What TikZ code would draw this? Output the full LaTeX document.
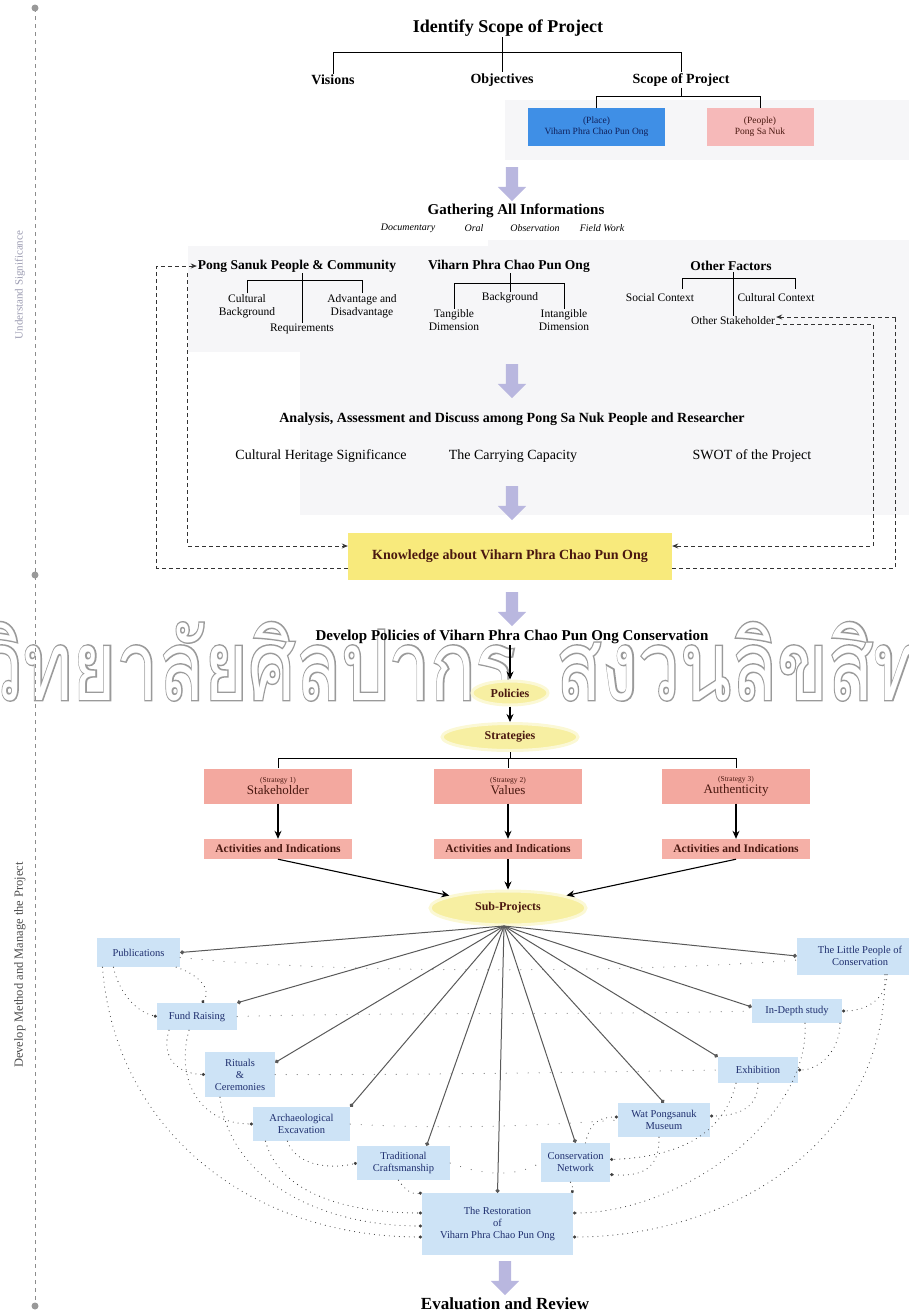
\documentclass[tikz,border=0pt]{standalone}
\usepackage{fontspec}
\setmainfont{Liberation Serif}
\newfontfamily\thaiwm[Script=Thai]{Loma}
\newfontfamily\thaiwmbold[Script=Thai, FakeBold=3]{Loma}
\usepackage{graphicx}
\usetikzlibrary{arrows.meta,shapes.geometric,shapes.arrows}
\definecolor{lav}{HTML}{B9B7DF}
\definecolor{placeblue}{HTML}{3F8FE6}
\definecolor{peoplepink}{HTML}{F6B9B9}
\definecolor{strpink}{HTML}{F3A89F}
\definecolor{actpink}{HTML}{F5B0A7}
\definecolor{knowy}{HTML}{F8EA7C}
\definecolor{elly}{HTML}{F7EFA2}
\definecolor{subblue}{HTML}{CDE3F6}
\definecolor{subtext}{HTML}{1E2E6E}
\definecolor{panel}{HTML}{F6F6F8}
\definecolor{wmgray}{HTML}{9A9A9A}
\definecolor{darkred}{HTML}{4A1810}
\definecolor{navy}{HTML}{10205A}
\definecolor{sidegray}{HTML}{9A9AB0}
\tikzset{
  ttl/.style={font=\bfseries\fontsize{18}{20}\selectfont, inner sep=1pt},
  hd/.style={font=\bfseries\fontsize{15}{17}\selectfont, inner sep=1pt},
  hdb/.style={font=\bfseries\fontsize{14}{16}\selectfont, inner sep=1pt},
  hdm/.style={font=\bfseries\fontsize{13.5}{15}\selectfont, inner sep=1pt},
  lbl/.style={font=\fontsize{11.5}{12.5}\selectfont, align=center, inner sep=1pt},
  itl/.style={font=\itshape\fontsize{10}{12}\selectfont, inner sep=1pt},
  rowt/.style={font=\fontsize{14}{16}\selectfont, inner sep=1pt},
  tree/.style={draw=black, line width=1pt},
  bigarr/.style={single arrow, fill=lav, draw=none, shape border rotate=270,
    minimum height=34pt, minimum width=28pt, inner sep=6pt, single arrow head extend=8pt},
  blk/.style={draw=black, line width=1.1pt, -{Stealth[length=8pt,width=7pt]}},
  dashl/.style={draw=black!80, line width=0.8pt, dash pattern=on 4pt off 3pt},
  placebox/.style={fill=placeblue, minimum width=137pt, minimum height=38pt, align=center,
    font=\fontsize{9.5}{11}\selectfont, text=navy, inner sep=1pt},
  pplbox/.style={fill=peoplepink, minimum width=107pt, minimum height=38pt, align=center,
    font=\fontsize{9.5}{11}\selectfont, text=darkred, inner sep=1pt},
  knowbox/.style={fill=knowy, minimum width=324pt, minimum height=47pt,
    font=\bfseries\fontsize{14}{16}\selectfont, text=darkred},
  ell/.style={ellipse, fill=elly, draw=elly!45, line width=3pt, text=darkred,
    font=\bfseries\fontsize{12}{14}\selectfont, inner sep=0pt},
  stbox/.style={fill=strpink, minimum width=148pt, minimum height=35pt, align=center,
    text=darkred, inner sep=1pt},
  actbox/.style={fill=actpink, minimum width=148pt, minimum height=20pt,
    font=\bfseries\fontsize{11.5}{13}\selectfont, text=darkred, inner sep=1pt},
  sp/.style={fill=subblue, align=center, text=subtext, font=\fontsize{10.5}{12}\selectfont, inner sep=1pt},
  hubl/.style={draw=black!65, line width=1pt, -{Circle[length=4pt]}},
  dotc/.style={draw=black!75, line width=1.1pt, line cap=round, dash pattern=on 0pt off 5pt, -{Circle[length=3pt]}},
  sparse/.style={draw=black!60, line width=1.1pt, line cap=round, dash pattern=on 0pt off 11pt},
  wmark/.style={inner sep=0pt},
}
\newcommand{\wmtext}[1]{\scalebox{0.77}[1]{\fontsize{97}{97}\selectfont\rlap{\textcolor{wmgray}{\thaiwmbold #1}}\textcolor{white}{\thaiwm #1}}}
\begin{document}
\begin{tikzpicture}[x=1pt,y=-1pt]
\useasboundingbox (0,0) rectangle (909,1315);
% faint background panels
\fill[panel] (505,100) rectangle (909,160);
\fill[panel] (188,246) rectangle (488,352);
\fill[panel] (488,240) rectangle (909,515);
\fill[panel] (300,352) rectangle (488,515);

% watermark
\node[wmark, anchor=base east] (wm1) at (516,700) {\wmtext{มหาวิทยาลัยศิลปากร}};
\node[wmark, anchor=base west] (wm2) at (556,700) {\wmtext{สงวนลิขสิทธิ์}};

% side bar
\coordinate (barT) at (35,8);
\coordinate (barM) at (35,575);
\coordinate (barB) at (35,1306);
\draw[draw=black!45, line width=0.8pt, dash pattern=on 4pt off 4pt] (barT) -- (barB);
\fill[black!40] (barT) circle (3.5pt);
\fill[black!40] (barM) circle (3.5pt);
\fill[black!40] (barB) circle (3.5pt);
\node[rotate=90, font=\fontsize{11}{12}\selectfont, text=sidegray] (us) at (20,285) {Understand Significance};
\node[rotate=90, font=\fontsize{12.5}{14}\selectfont, text=black!70] (dm) at (20,965) {Develop Method and Manage the Project};

% top
\node[ttl] (top) at (508,28) {Identify Scope of Project};
\node[hdb] (vis) at (333,80) {Visions};
\node[hdb] (obj) at (502,80) {Objectives};
\node[hdb] (scope) at (681,80) {Scope of Project};
\coordinate (b1) at (0,52);
\draw[tree] (top.south -| obj) -- (obj.north);
\draw[tree] (vis.north) -- (vis.north |- b1) -- (scope.north |- b1) -- (scope.north);
\node[placebox] (place) at (596.5,127) {(Place)\\Viharn Phra Chao Pun Ong};
\node[pplbox] (ppl) at (760,127) {(People)\\Pong Sa Nuk};
\coordinate (b2) at (0,96);
\draw[tree] (scope.south) -- (scope.south |- b2);
\draw[tree] (place.north) -- (place.north |- b2) -- (ppl.north |- b2) -- (ppl.north);

\node[bigarr] (ar1) at (512,181) {};
\node[hd] (gath) at (516,211) {Gathering All Informations};
\node[itl] (doc) at (408,228) {Documentary};
\node[itl] (oral) at (474,228) {Oral};
\node[itl] (obs) at (535,228) {Observation};
\node[itl] (fw) at (602,228) {Field Work};

% groups
\node[hdm] (pong) at (297,266) {Pong Sanuk People \& Community};
\node[hdm] (vih) at (509,266) {Viharn Phra Chao Pun Ong};
\node[hdm] (oth) at (731,266) {Other Factors};

\node[lbl] (cb) at (247,306) {Cultural\\Background};
\node[lbl] (adv) at (362,306) {Advantage and\\Disadvantage};
\node[lbl] (req) at (302,329) {Requirements};
\coordinate (b3) at (0,280);
\draw[tree] (req.north |- pong.south) -- (req.north);
\draw[tree] (cb.north) -- (cb.north |- b3) -- (adv.north |- b3) -- (adv.north);

\node[lbl] (bg) at (510,298) {Background};
\node[lbl] (tan) at (454,320) {Tangible\\Dimension};
\node[lbl] (intan) at (564,320) {Intangible\\Dimension};
\coordinate (b5) at (0,283);
\draw[tree] (bg.north |- vih.south) -- (bg.north);
\draw[tree] (tan.north) -- (tan.north |- b5) -- (intan.north |- b5) -- (intan.north);

\node[lbl] (soc) at (660,298) {Social Context};
\node[lbl] (cul) at (776,298) {Cultural Context};
\node[lbl] (ost) at (733,321) {Other Stakeholder};
\coordinate (rdl) at (682,289);
\coordinate (rdr) at (795,289);
\coordinate (b4) at (0,278);
\draw[tree] (ost.north |- oth.south) -- (ost.north);
\draw[tree] (rdl) -- (rdl |- b4) -- (rdr |- b4) -- (rdr);

\node[bigarr] (ar2) at (512,378) {};
\node[hdb] (anal) at (512,419) {Analysis, Assessment and Discuss among Pong Sa Nuk People and Researcher};
\node[rowt] (chs) at (321,456) {Cultural Heritage Significance};
\node[rowt] (cc) at (513,456) {The Carrying Capacity};
\node[rowt] (swot) at (752,456) {SWOT of the Project};
\node[bigarr] (ar3) at (512,500) {};
\node[knowbox] (know) at (510,556) {Knowledge about Viharn Phra Chao Pun Ong};

% dashed feedback loops
\draw[dashl, -{Stealth[length=6pt,width=5pt]}] ([xshift=-9pt]pong.south west) |- ([yshift=10pt]know.west);
\draw[dashl, -{Stealth[length=6pt,width=5pt]}] ([yshift=-12pt]know.west) -| ([xshift=-40pt]pong.west) -- (pong.west);
\draw[dashl, -{Stealth[length=6pt,width=5pt]}] ([yshift=-3pt]ost.east) -| ([xshift=201pt,yshift=10pt]know.east) -- ([yshift=10pt]know.east);
\draw[dashl, -{Stealth[length=6pt,width=5pt]}] ([yshift=-12pt]know.east) -| ([xshift=223pt]know.east |- ost.north) |- ([yshift=4pt]ost.east);

\node[bigarr] (ar4) at (512,606) {};
\node[hd] (dev) at (512,637) {Develop Policies of Viharn Phra Chao Pun Ong Conservation};
\node[ell, minimum width=76pt, minimum height=24pt] (pol) at (510,693) {Policies};
\node[ell, minimum width=136pt, minimum height=27pt] (strat) at (510,737) {Strategies};
\draw[blk] (dev.south -| pol) -- (pol.north);
\draw[blk] (pol.south) -- (strat.north);

\node[stbox] (s1) at (278,786) {{\fontsize{7.5}{8}\selectfont (Strategy 1)}\\{\fontsize{13}{14}\selectfont Stakeholder}};
\node[stbox] (s2) at (508,786) {{\fontsize{7.5}{8}\selectfont (Strategy 2)}\\{\fontsize{13}{14}\selectfont Values}};
\node[stbox] (s3) at (736,786) {{\fontsize{7.5}{8}\selectfont (Strategy 3)}\\{\fontsize{13}{14}\selectfont Authenticity}};
\coordinate (b6) at (0,758);
\draw[tree] (strat.south) -- (strat.south |- b6);
\draw[tree] (s2.north |- b6) -- (s2.north);
\draw[tree] (s1.north) -- (s1.north |- b6) -- (s3.north |- b6) -- (s3.north);
\node[actbox] (c1) at (278,849) {Activities and Indications};
\node[actbox] (c2) at (508,849) {Activities and Indications};
\node[actbox] (c3) at (736,849) {Activities and Indications};
\draw[blk] (s1.south) -- (c1.north);
\draw[blk] (s2.south) -- (c2.north);
\draw[blk] (s3.south) -- (c3.north);

\node[ell, minimum width=156pt, minimum height=34pt] (sub) at (508,908) {Sub-Projects};
\draw[blk] (c1.south) -- (sub);
\draw[blk] (c2.south) -- (sub.north);
\draw[blk] (c3.south) -- (sub);
\coordinate (hub) at (504,926);

% sub-project boxes
\node[sp, minimum width=83pt, minimum height=29pt] (pub) at (138.5,952.5) {Publications};
\node[sp, minimum width=80pt, minimum height=27pt] (fund) at (197,1016.5) {Fund Raising};
\node[sp, minimum width=70pt, minimum height=45pt] (rit) at (240,1074.5) {Rituals\\\&\\Ceremonies};
\node[sp, minimum width=97pt, minimum height=34pt] (arch) at (301.5,1124) {Archaeological\\Excavation};
\node[sp, minimum width=93pt, minimum height=34pt] (trad) at (403.5,1163) {Traditional\\Craftsmanship};
\node[sp, minimum width=151pt, minimum height=62pt] (rest) at (497.5,1224) {The Restoration\\of\\Viharn Phra Chao Pun Ong};
\node[sp, minimum width=69pt, minimum height=39pt] (net) at (575.5,1162.5) {Conservation\\Network};
\node[sp, minimum width=92pt, minimum height=34pt] (mus) at (664,1120) {Wat Pongsanuk\\Museum};
\node[sp, minimum width=80pt, minimum height=26pt] (exh) at (758,1070) {Exhibition};
\node[sp, minimum width=90pt, minimum height=24pt] (indep) at (797,1011) {In-Depth study};
\node[sp, minimum width=126pt, minimum height=37pt] (little) at (860,956) {The Little People of\\Conservation};

% fan lines
\draw[hubl] (hub) -- (pub.east);
\draw[hubl] (hub) -- (fund.north east);
\draw[hubl] (hub) -- ([yshift=12pt]rit.east);
\draw[hubl] (hub) -- (arch.north east);
\draw[hubl] (hub) -- ([xshift=23pt]trad.north);
\draw[hubl] (hub) -- (rest.north);
\draw[hubl] (hub) -- (net.north);
\draw[hubl] (hub) -- (mus.north);
\draw[hubl] (hub) -- (exh.north west);
\draw[hubl] (hub) -- ([yshift=4pt]indep.west);
\draw[hubl] (hub) -- (little.west);

% dotted relations, left
\draw[dotc] ([xshift=-25pt]pub.south) .. controls (118,990) and (135,1012) .. (fund.west);
\draw[dotc] ([xshift=-4pt]pub.south east) .. controls (200,975) and (212,990) .. ([xshift=5pt]fund.north);
\draw[dotc] ([xshift=-28pt]fund.south) .. controls (160,1060) and (180,1074) .. (rit.west);
\draw[dotc] ([xshift=-8pt]fund.south) .. controls (175,1080) and (200,1124) .. (arch.west);
\draw[dotc] ([xshift=-36pt]pub.south) .. controls (115,1130) and (250,1237) .. ([yshift=-13pt]rest.west);
\draw[dotc] ([xshift=-20pt]rit.south) .. controls (230,1180) and (320,1226) .. ([yshift=-2pt]rest.west);
\draw[dotc] ([xshift=-14pt]arch.south) .. controls (295,1165) and (330,1170) .. (trad.west);
\draw[dotc] ([xshift=-36pt]arch.south) .. controls (280,1195) and (350,1213) .. ([yshift=11pt]rest.west);
\draw[dotc] ([xshift=-5pt]trad.south) .. controls (405,1190) and (412,1195) .. (rest.north west);
% dotted relations, right
\draw[dotc] ([xshift=27pt]little.south) .. controls (887,1000) and (865,1011) .. (indep.east);
\draw[dotc] ([xshift=43pt]indep.south) .. controls (840,1050) and (820,1070) .. (exh.east);
\draw[dotc] ([xshift=25pt]little.south) .. controls (885,1150) and (720,1237) .. ([yshift=-13pt]rest.east);
\draw[dotc] ([xshift=8pt]indep.south) .. controls (810,1120) and (680,1213) .. ([yshift=11pt]rest.east);
\draw[dotc] (exh.south) .. controls (758,1110) and (735,1116) .. ([yshift=4pt]mus.east);
\draw[dotc] ([xshift=-22pt]exh.south) .. controls (720,1150) and (650,1158) .. ([yshift=3pt]net.east);
\draw[dotc] ([xshift=-5pt]mus.south) .. controls (660,1170) and (640,1177) .. ([yshift=-12pt]net.east);
\draw[dotc] ([xshift=10pt]net.north) .. controls (590,1122) and (600,1117) .. ([yshift=3pt]mus.west);
\draw[dotc] ([xshift=-5pt]net.south) .. controls (574,1188) and (572,1191) .. (rest.north east);
% sparse cross relations
\draw[sparse] ([yshift=-5pt]pub.east) .. controls (350,975) and (650,972) .. ([yshift=-4pt]little.west);
\draw[sparse] (fund.east) .. controls (400,1012) and (600,1015) .. (indep.west);
\draw[sparse] (rit.east) .. controls (420,1075) and (600,1072) .. (exh.west);
\draw[sparse] (arch.east) .. controls (450,1130) and (550,1125) .. (mus.west);
\draw[sparse] (trad.east) .. controls (490,1178) and (520,1175) .. (net.west);

\node[bigarr] (ar5) at (505,1275) {};
\node[font=\bfseries\fontsize{17}{19}\selectfont, inner sep=1pt] (eval) at (505,1304) {Evaluation and Review};
\end{tikzpicture}
\end{document}
